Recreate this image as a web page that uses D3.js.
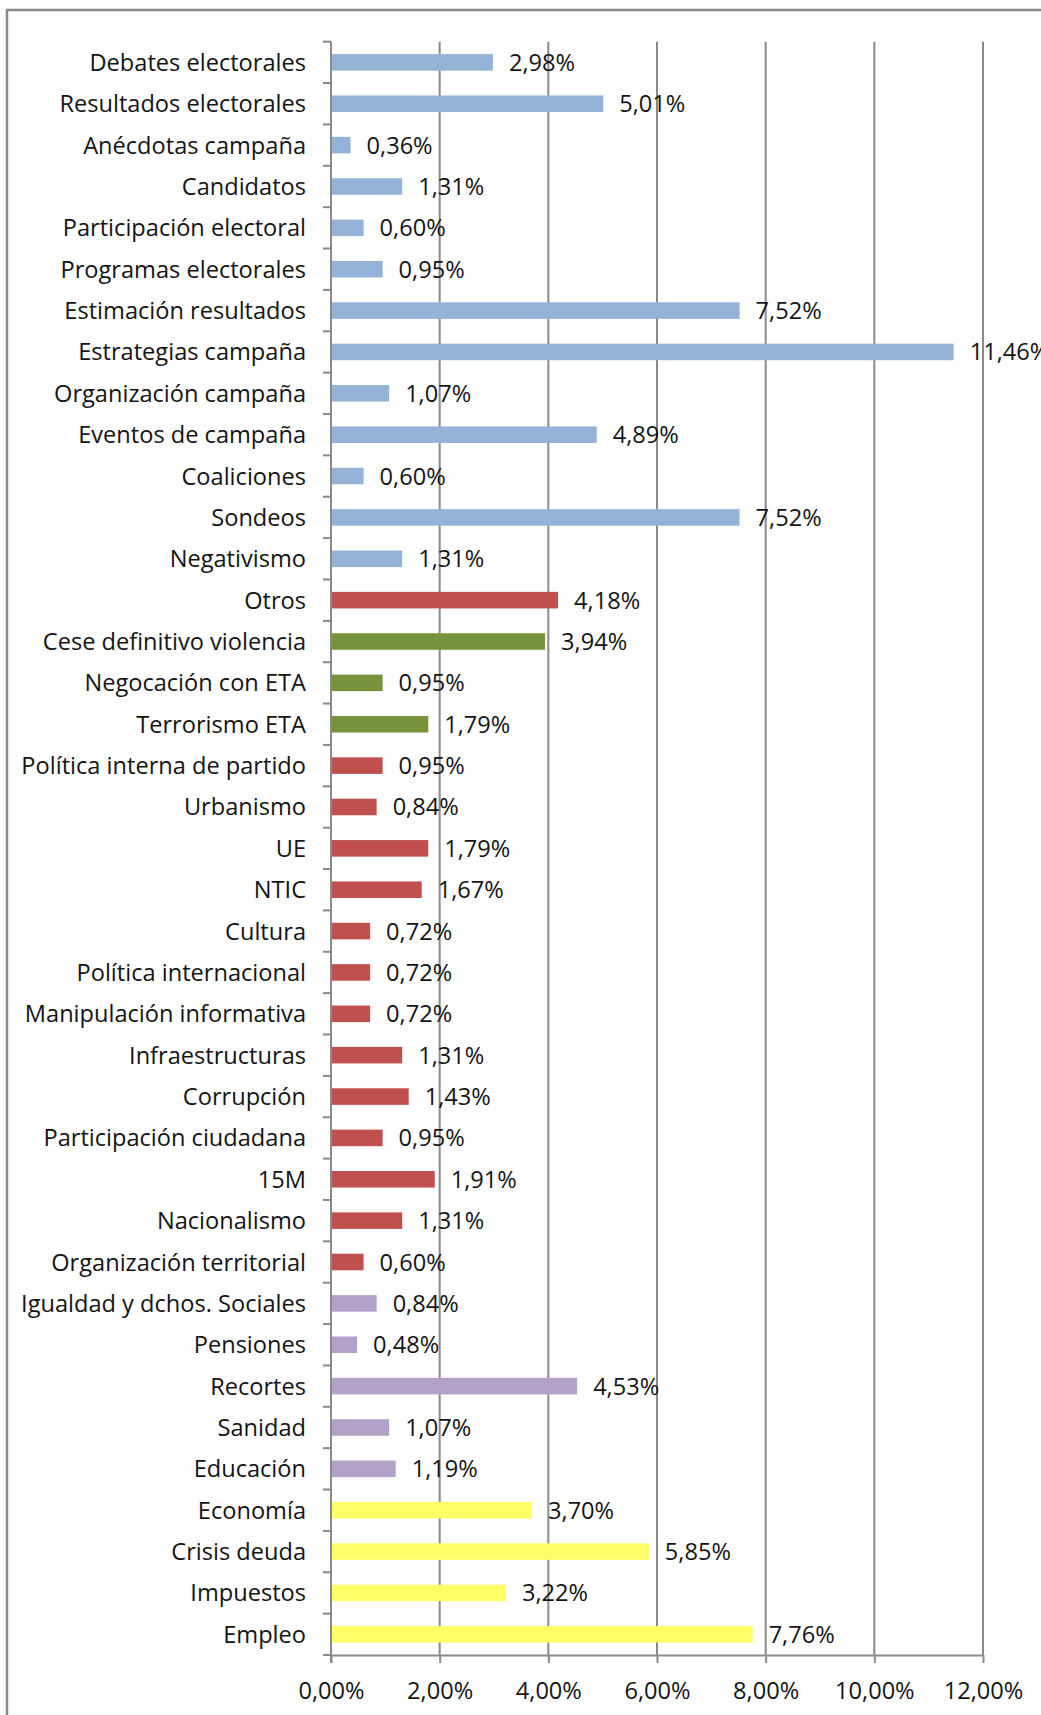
<!DOCTYPE html>
<html>
<head>
<meta charset="utf-8">
<script src="https://cdn.jsdelivr.net/npm/d3@7"></script>
<style>
  html, body { margin: 0; padding: 0; background: #fff; }
  svg { display: block; }
  text { font-family: "Open Sans", Lato, sans-serif; fill: #141414; }
</style>
</head>
<body>
<svg id="chart" width="1041" height="1715"></svg>
<script>
// ---- data ----
const categories = [
  "Debates electorales", "Resultados electorales", "Anécdotas campaña", "Candidatos",
  "Participación electoral", "Programas electorales", "Estimación resultados",
  "Estrategias campaña", "Organización campaña", "Eventos de campaña", "Coaliciones",
  "Sondeos", "Negativismo", "Otros", "Cese definitivo violencia", "Negocación con ETA",
  "Terrorismo ETA", "Política interna de partido", "Urbanismo", "UE", "NTIC", "Cultura",
  "Política internacional", "Manipulación informativa", "Infraestructuras", "Corrupción",
  "Participación ciudadana", "15M", "Nacionalismo", "Organización territorial",
  "Igualdad y dchos. Sociales", "Pensiones", "Recortes", "Sanidad", "Educación",
  "Economía", "Crisis deuda", "Impuestos", "Empleo"
];
const values = [
  2.98, 5.01, 0.36, 1.31, 0.60, 0.95, 7.52, 11.46, 1.07, 4.89, 0.60, 7.52, 1.31,
  4.18, 3.94, 0.95, 1.79,
  0.95, 0.84, 1.79, 1.67, 0.72, 0.72, 0.72, 1.31, 1.43, 0.95, 1.91, 1.31, 0.60,
  0.84, 0.48, 4.53, 1.07, 1.19,
  3.70, 5.85, 3.22, 7.76
];
const groups = [
  "campaña","campaña","campaña","campaña","campaña","campaña","campaña","campaña",
  "campaña","campaña","campaña","campaña","campaña",
  "otros","eta","eta","eta",
  "otros","otros","otros","otros","otros","otros","otros","otros","otros","otros",
  "otros","otros","otros",
  "social","social","social","social","social",
  "economia","economia","economia","economia"
];
const groupNames = ["campaña", "otros", "eta", "social", "economia"];
const groupColors = ["#95B3D7", "#C0504D", "#77933C", "#B3A2C7", "#FFFF66"];
const xTicks = [0, 2, 4, 6, 8, 10, 12];

// ---- layout ----
const W = 1041, H = 1715;
const plotLeft = 331, plotRight = 983, plotTop = 41.7, plotBottom = 1655;
const gridColor = "#8a8a8a";
const fontSize = 23.6;

const locale = d3.formatLocale({decimal: ",", thousands: ".", grouping: [3], currency: ["", "€"]});
const fmt = locale.format(".2f");

const data = categories.map((c, i) => ({cat: c, value: values[i], group: groups[i]}));

const svg = d3.select("#chart");
svg.append("rect").attr("width", W).attr("height", H).attr("fill", "#fff");

// outer frame (cut off at right and bottom)
svg.append("rect")
  .attr("x", 7).attr("y", 10).attr("width", W + 50).attr("height", H + 50)
  .attr("fill", "none").attr("stroke", gridColor).attr("stroke-width", 2.5);

const x = d3.scaleLinear().domain([0, 12]).range([plotLeft, plotRight]);
const y = d3.scaleBand().domain(categories).range([plotTop, plotBottom])
  .paddingInner(0.6).paddingOuter(0.3);
const color = d3.scaleOrdinal().domain(groupNames).range(groupColors);

// vertical gridlines
svg.append("g").selectAll("line").data(xTicks.filter(d => d > 0)).join("line")
  .attr("x1", d => x(d)).attr("x2", d => x(d))
  .attr("y1", plotTop).attr("y2", plotBottom)
  .attr("stroke", gridColor).attr("stroke-width", 2);

// bars
svg.append("g").selectAll("rect").data(data).join("rect")
  .attr("x", x(0) + 1)
  .attr("y", d => y(d.cat))
  .attr("width", d => x(d.value) - x(0) - 1)
  .attr("height", y.bandwidth())
  .attr("fill", d => color(d.group));

// x axis
const xAxis = svg.append("g")
  .attr("transform", `translate(0,${plotBottom})`)
  .call(d3.axisBottom(x).tickValues(xTicks).tickSize(8).tickSizeOuter(0).tickPadding(19)
    .tickFormat(d => fmt(d) + "%"));
xAxis.select(".domain").attr("stroke", gridColor).attr("stroke-width", 2);
xAxis.selectAll(".tick line").attr("stroke", gridColor).attr("stroke-width", 2);
xAxis.selectAll(".tick text").attr("font-size", fontSize).attr("font-family", "'Open Sans', Lato, sans-serif").attr("fill", "#141414");

// y axis line and boundary ticks
const step = y.step();
const yAx = svg.append("g");
yAx.append("line")
  .attr("x1", plotLeft).attr("x2", plotLeft)
  .attr("y1", plotTop).attr("y2", plotBottom + 8)
  .attr("stroke", gridColor).attr("stroke-width", 2);
yAx.selectAll("line.tk").data(d3.range(categories.length + 1)).join("line")
  .attr("class", "tk")
  .attr("x1", plotLeft - 8).attr("x2", plotLeft)
  .attr("y1", i => plotTop + i * step).attr("y2", i => plotTop + i * step)
  .attr("stroke", gridColor).attr("stroke-width", 2);

// category labels
svg.append("g").selectAll("text").data(data).join("text")
  .attr("x", plotLeft - 25)
  .attr("y", d => y(d.cat) + y.bandwidth() / 2)
  .attr("dy", "0.36em")
  .attr("text-anchor", "end")
  .attr("font-size", fontSize)
  .text(d => d.cat);

// value labels
svg.append("g").selectAll("text").data(data).join("text")
  .attr("x", d => x(d.value) + 16)
  .attr("y", d => y(d.cat) + y.bandwidth() / 2)
  .attr("dy", "0.36em")
  .attr("text-anchor", "start")
  .attr("font-size", fontSize)
  .text(d => fmt(d.value) + "%");
</script>
</body>
</html>
